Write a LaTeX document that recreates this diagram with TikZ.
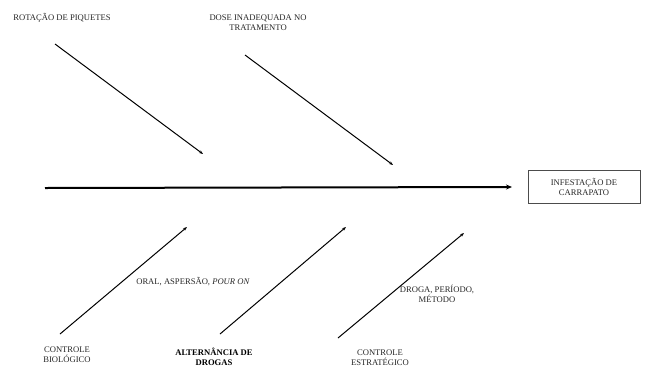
\documentclass[tikz,border=0pt]{standalone}
\usepackage{fontspec}
\setmainfont{Liberation Serif}
\usetikzlibrary{arrows.meta}
\begin{document}
\begin{tikzpicture}[x=1pt,y=-1pt,
  lbl/.style={font=\fontsize{8.6}{10}\selectfont, align=center, text=black!85, inner sep=0pt},
  bone/.style={line width=1pt, -{Stealth[length=4pt,width=3pt]}},
  spine/.style={line width=2pt, -{Stealth[length=6pt,width=5pt]}}]
\useasboundingbox (0,0) rectangle (649,368);
\node[draw=black!70, line width=0.8pt, minimum width=112pt, minimum height=33pt, lbl] (eff) at (584,187) {INFESTAÇÃO DE\\CARRAPATO};
\coordinate (s0) at (45,188);
\draw[spine] (s0) -- (eff.west -| 512,0);
% top
\node[lbl] (t1) at (62,18) {ROTAÇÃO DE PIQUETES};
\node[lbl] (t2) at (258,23) {DOSE INADEQUADA NO\\TRATAMENTO};
\coordinate (a1s) at (55,44); \coordinate (a1e) at (203,154);
\coordinate (a2s) at (245,55); \coordinate (a2e) at (393,165);
\draw[bone] (a1s) -- (a1e);
\draw[bone] (a2s) -- (a2e);
% bottom
\coordinate (b1s) at (60,334); \coordinate (b1e) at (187,227);
\coordinate (b2s) at (220,334); \coordinate (b2e) at (346,227);
\coordinate (b3s) at (338,338); \coordinate (b3e) at (464,233);
\draw[bone] (b1s) -- (b1e);
\draw[bone] (b2s) -- (b2e);
\draw[bone] (b3s) -- (b3e);
\node[lbl] (l1) at (67,355) {CONTROLE\\BIOLÓGICO};
\node[lbl, font=\fontsize{8.6}{10}\selectfont\bfseries, text=black] (l2) at (214,357) {ALTERNÂNCIA DE\\DROGAS};
\node[lbl] (l3) at (380,358) {CONTROLE\\ESTRATÉGICO};
\node[lbl] (m1) at (193,282) {ORAL, ASPERSÃO, \textit{POUR ON}};
\node[lbl] (m2) at (437,294) {DROGA, PERÍODO,\\MÉTODO};
\end{tikzpicture}
\end{document}
